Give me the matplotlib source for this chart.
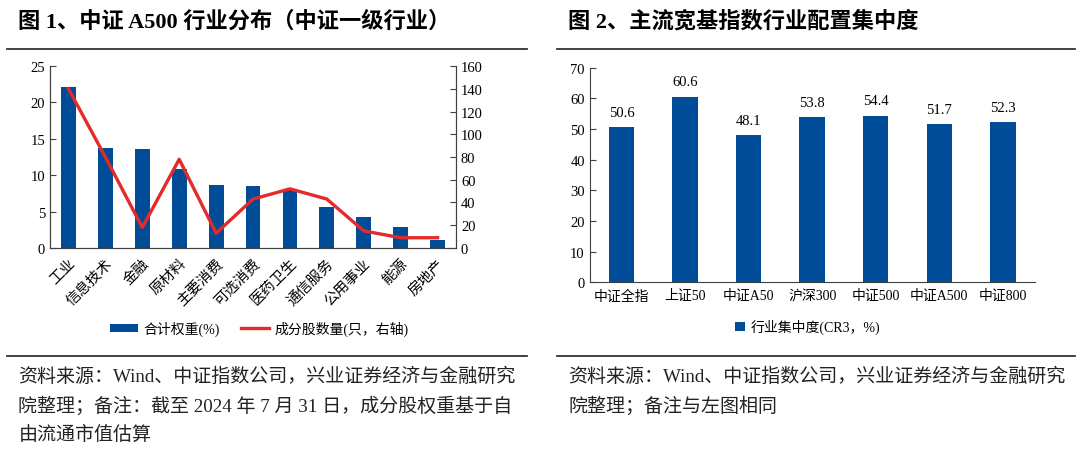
import matplotlib.pyplot as plt
from matplotlib.lines import Line2D

plt.rcParams['font.family'] = ['Liberation Serif', 'Noto Sans CJK SC']
plt.rcParams['axes.unicode_minus'] = False

# 图1 data
industries = ['工业', '信息技术', '金融', '原材料', '主要消费', '可选消费',
              '医药卫生', '通信服务', '公用事业', '能源', '房地产']
weights = [22.1, 13.7, 13.6, 10.9, 8.6, 8.5, 8.0, 5.6, 4.2, 2.9, 1.1]
counts = [140, 80, 18, 78, 13, 43, 52, 43, 15, 9, 9]

# 图2 data
indices = ['中证全指', '上证50', '中证A50', '沪深300', '中证500', '中证A500', '中证800']
cr3 = [50.6, 60.6, 48.1, 53.8, 54.4, 51.7, 52.3]

blue = '#004C97'
red = '#E42A2A'
spine_c = '#404040'

fig = plt.figure(figsize=(10.8, 4.56), dpi=100)

# titles and rules
fig.text(0.017, 0.952, '图 1、中证 A500 行业分布（中证一级行业）', fontsize=16,
         fontweight='bold', va='center', ha='left')
fig.text(0.526, 0.952, '图 2、主流宽基指数行业配置集中度', fontsize=16,
         fontweight='bold', va='center', ha='left')
for x0, x1 in [(0.0065, 0.488), (0.516, 0.995)]:
    fig.add_artist(Line2D([x0, x1], [0.890, 0.890], color='#333333', lw=1.3))
    fig.add_artist(Line2D([x0, x1], [0.217, 0.217], color='#333333', lw=1.3))

left_note = ['资料来源：Wind、中证指数公司，兴业证券经济与金融研究',
             '院整理；备注：截至 2024 年 7 月 31 日，成分股权重基于自',
             '由流通市值估算']
right_note = ['资料来源：Wind、中证指数公司，兴业证券经济与金融研究',
              '院整理；备注与左图相同']
ys = [0.173, 0.110, 0.046]
for i, t in enumerate(left_note):
    fig.text(0.017, ys[i], t, fontsize=13.7, va='center', ha='left', color='#222222')
for i, t in enumerate(right_note):
    fig.text(0.526, ys[i], t, fontsize=13.7, va='center', ha='left', color='#222222')

# chart 1
ax1 = fig.add_axes([0.0463, 0.454, 0.376, 0.399])
x = range(len(industries))
ax1.bar(x, weights, width=0.4, color=blue, label='合计权重(%)', zorder=2)
ax1.set_xlim(-0.5, len(industries) - 0.5)
ax1.set_ylim(0, 25)
ax1.set_yticks(range(0, 26, 5))
ax1.set_xticks(list(x))
ax1.set_xticklabels(industries, rotation=45, ha='right', rotation_mode='anchor', fontsize=10.5)
ax1.tick_params(axis='y', direction='in', labelsize=10.5, length=4, color=spine_c)
ax1.tick_params(axis='x', length=0, pad=6)
ax1.spines['top'].set_visible(False)
for s in ['left', 'bottom', 'right']:
    ax1.spines[s].set_color(spine_c)

ax1b = ax1.twinx()
ax1b.plot(x, counts, color=red, lw=2.4, label='成分股数量(只，右轴)', zorder=3)
ax1b.set_ylim(0, 160)
ax1b.set_yticks(range(0, 161, 20))
ax1b.tick_params(axis='y', direction='in', labelsize=10.5, length=4, color=spine_c)
ax1b.spines['top'].set_visible(False)
for s in ['left', 'bottom', 'right']:
    ax1b.spines[s].set_color(spine_c)

h1, l1 = ax1.get_legend_handles_labels()
h2, l2 = ax1b.get_legend_handles_labels()
fig.legend(h1 + h2, l1 + l2, loc='center', bbox_to_anchor=(0.24, 0.278), ncol=2,
           frameon=False, fontsize=10, handlelength=2.0, handleheight=0.5,
           columnspacing=1.5, handletextpad=0.4)

# chart 2
ax2 = fig.add_axes([0.546, 0.379, 0.412, 0.470])
x2 = range(len(indices))
bars = ax2.bar(x2, cr3, width=0.4, color=blue, label='行业集中度(CR3，%)')
ax2.set_xlim(-0.5, len(indices) - 0.5)
ax2.set_ylim(0, 70)
ax2.set_yticks(range(0, 71, 10))
ax2.set_xticks(list(x2))
ax2.set_xticklabels(indices, fontsize=10)
ax2.tick_params(axis='y', direction='in', labelsize=10.5, length=4, color=spine_c)
ax2.tick_params(axis='x', length=0, pad=5)
ax2.spines['top'].set_visible(False)
ax2.spines['right'].set_visible(False)
for s in ['left', 'bottom']:
    ax2.spines[s].set_color(spine_c)
for b, v in zip(bars, cr3):
    ax2.annotate(f'{v:.1f}', (b.get_x() + b.get_width() / 2, v), xytext=(0, 6),
                 textcoords='offset points', ha='center', va='bottom', fontsize=10.5)
fig.legend(*ax2.get_legend_handles_labels(), loc='center', bbox_to_anchor=(0.748, 0.281),
           frameon=False, fontsize=10, handlelength=0.7, handleheight=0.7,
           handletextpad=0.4)

fig.savefig('out.png', dpi=100)
